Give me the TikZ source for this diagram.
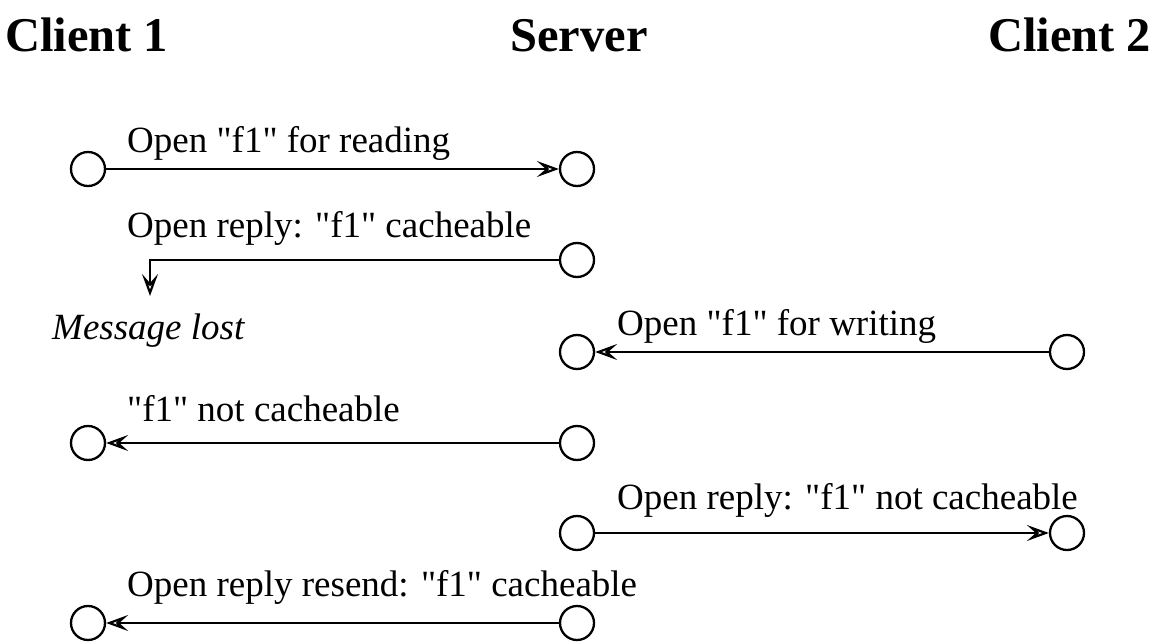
\documentclass[tikz,border=0pt]{standalone}
\usepackage{fontspec}
\setmainfont{Liberation Serif}
\usetikzlibrary{arrows.meta}
\newcommand{\qq}{\textquotedbl}
\begin{document}
\begin{tikzpicture}[x=1pt,y=-1pt,
  station/.style={circle,draw,line width=2.3pt,minimum size=34pt,inner sep=0pt},
  msg/.style={line width=2.4pt,-{Stealth[open,length=22pt,width=16pt,inset=9pt,line width=2.2pt]}},
  lbl/.style={anchor=base west,inner sep=0pt,font=\fontsize{37}{42}\selectfont},
  head/.style={anchor=base west,inner sep=0pt,font=\fontsize{48.5}{56}\selectfont\bfseries}]
\useasboundingbox (0,0) rectangle (1150,644);
% headings
\node[head] (h1) at (5,52) {Client 1};
\node[head] (h2) at (510,52) {Server};
\node[head] (h3) at (988,52) {Client 2};
% row 1
\node[station] (a1) at (88,169) {};
\node[station] (s1) at (577,169) {};
\draw[msg] (a1) -- (s1);
\node[lbl] (l1) at (127,153) {Open \qq f1\qq{} for reading};
% row 2
\node[station] (s2) at (577,260) {};
\coordinate (c2) at (150,260);
\coordinate (e2) at (150,296);
\draw[msg] (s2.west) -- (c2) -- (e2);
\node[lbl] (l2) at (127,238) {Open reply: \qq f1\qq{} cacheable};
\node[lbl,font=\fontsize{37}{42}\selectfont\itshape] (lost) at (52,339) {Message lost};
% row 3
\node[station] (s3) at (577,352) {};
\node[station] (b3) at (1067,352) {};
\draw[msg] (b3) -- (s3);
\node[lbl] (l3) at (617,335) {Open \qq f1\qq{} for writing};
% row 4
\node[station] (a4) at (88,443) {};
\node[station] (s4) at (577,443) {};
\draw[msg] (s4) -- (a4);
\node[lbl] (l4) at (127,421) {\qq f1\qq{} not cacheable};
% row 5
\node[station] (s5) at (577,533) {};
\node[station] (b5) at (1067,533) {};
\draw[msg] (s5) -- (b5);
\node[lbl] (l5) at (617,509) {Open reply: \qq f1\qq{} not cacheable};
% row 6
\node[station] (a6) at (88,623) {};
\node[station] (s6) at (577,623) {};
\draw[msg] (s6) -- (a6);
\node[lbl] (l6) at (127,596) {Open reply resend: \qq f1\qq{} cacheable};
\end{tikzpicture}
\end{document}
